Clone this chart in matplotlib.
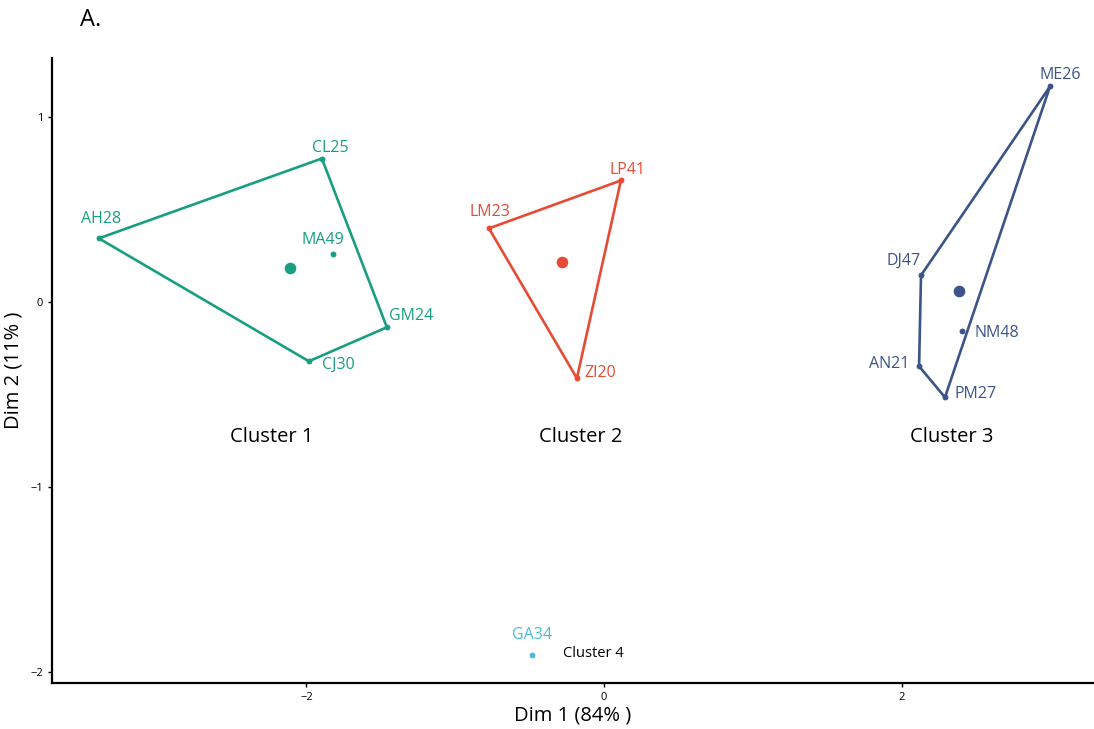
import matplotlib
matplotlib.use("Agg")
import matplotlib.pyplot as plt

plt.rcParams["font.family"] = ["Open Sans", "DejaVu Sans"]

# sample coordinates on the first two dimensions
names = ["AH28", "CL25", "MA49", "GM24", "CJ30",
         "LM23", "LP41", "ZI20",
         "ME26", "DJ47", "NM48", "AN21", "PM27",
         "GA34"]
dim1 = [-3.395, -1.896, -1.822, -1.459, -1.983,
        -0.773, 0.114, -0.182,
        2.998, 2.131, 2.407, 2.118, 2.292,
        -0.484]
dim2 = [0.346, 0.778, 0.259, -0.135, -0.319,
        0.400, 0.659, -0.411,
        1.168, 0.146, -0.157, -0.346, -0.514,
        -1.908]
cluster = [1, 1, 1, 1, 1, 2, 2, 2, 3, 3, 3, 3, 3, 4]

# hull order (indices into the arrays above)
hulls = {1: [0, 1, 3, 4], 2: [5, 6, 7], 3: [8, 9, 11, 12]}

centroid_x = [-2.111, -0.282, 2.387]
centroid_y = [0.184, 0.216, 0.059]

cluster_names = ["Cluster 1", "Cluster 2", "Cluster 3", "Cluster 4"]
cluster_label_x = [-2.23, -0.155, 2.34, -0.07]
cluster_label_y = [-0.73, -0.73, -0.73, -1.90]

colors = {1: "#1A9E82", 2: "#E64B35", 3: "#3C5488", 4: "#4DBBD5"}

# label offsets in pixels (dx, dy, ha)
label_offsets = {
    "AH28": (2, 19, "center"), "CL25": (8, 11, "center"), "MA49": (-10, 14, "center"),
    "GM24": (2, 11, "left"), "CJ30": (13, -4, "left"), "LM23": (1, 16, "center"),
    "LP41": (7, 10, "center"), "ZI20": (8, 5, "left"), "ME26": (10, 11, "center"),
    "DJ47": (-17, 14, "center"), "NM48": (12, -2, "left"), "AN21": (-30, 2, "center"),
    "PM27": (10, 3, "left"), "GA34": (0, 20, "center"),
}

fig = plt.figure(figsize=(10.94, 7.29), dpi=100)
ax = fig.add_axes([0.0475, 0.063, 0.952, 0.857])

for c, idx in hulls.items():
    xs = [dim1[i] for i in idx] + [dim1[idx[0]]]
    ys = [dim2[i] for i in idx] + [dim2[idx[0]]]
    ax.plot(xs, ys, color=colors[c], lw=1.9, solid_joinstyle="round", zorder=2)

for n, x, y, c in zip(names, dim1, dim2, cluster):
    ax.scatter(x, y, s=18, color=colors[c], zorder=3, linewidths=0)
    dx, dy, ha = label_offsets[n]
    ax.annotate(n, (x, y), xytext=(dx, dy), textcoords="offset pixels",
                ha=ha, va="center", color=colors[c], fontsize=11.5)

for k, (cx, cy) in enumerate(zip(centroid_x, centroid_y)):
    ax.scatter(cx, cy, s=70, color=colors[k + 1], zorder=3, linewidths=0)

for k, (t, x, y) in enumerate(zip(cluster_names, cluster_label_x, cluster_label_y)):
    ax.text(x, y, t, ha="center", va="center", color="black",
            fontsize=10.5 if k == 3 else 14.5)

ax.set_xlim(-3.71, 3.29)
ax.set_ylim(-2.06, 1.32)
ax.set_xticks([-2, 0, 2])
ax.set_yticks([-2, -1, 0, 1])
ax.tick_params(labelsize=8, length=3, width=1, color="black")
for s in ["top", "right"]:
    ax.spines[s].set_visible(False)
for s in ["left", "bottom"]:
    ax.spines[s].set_linewidth(1.6)
ax.set_xlabel("Dim 1 (84% )", fontsize=14.5, labelpad=2)
ax.set_ylabel("Dim 2 (11% )", fontsize=14.5, labelpad=5)

fig.text(0.073, 0.972, "A.", fontsize=17, va="center", ha="left")

fig.savefig("out.png", dpi=100)
